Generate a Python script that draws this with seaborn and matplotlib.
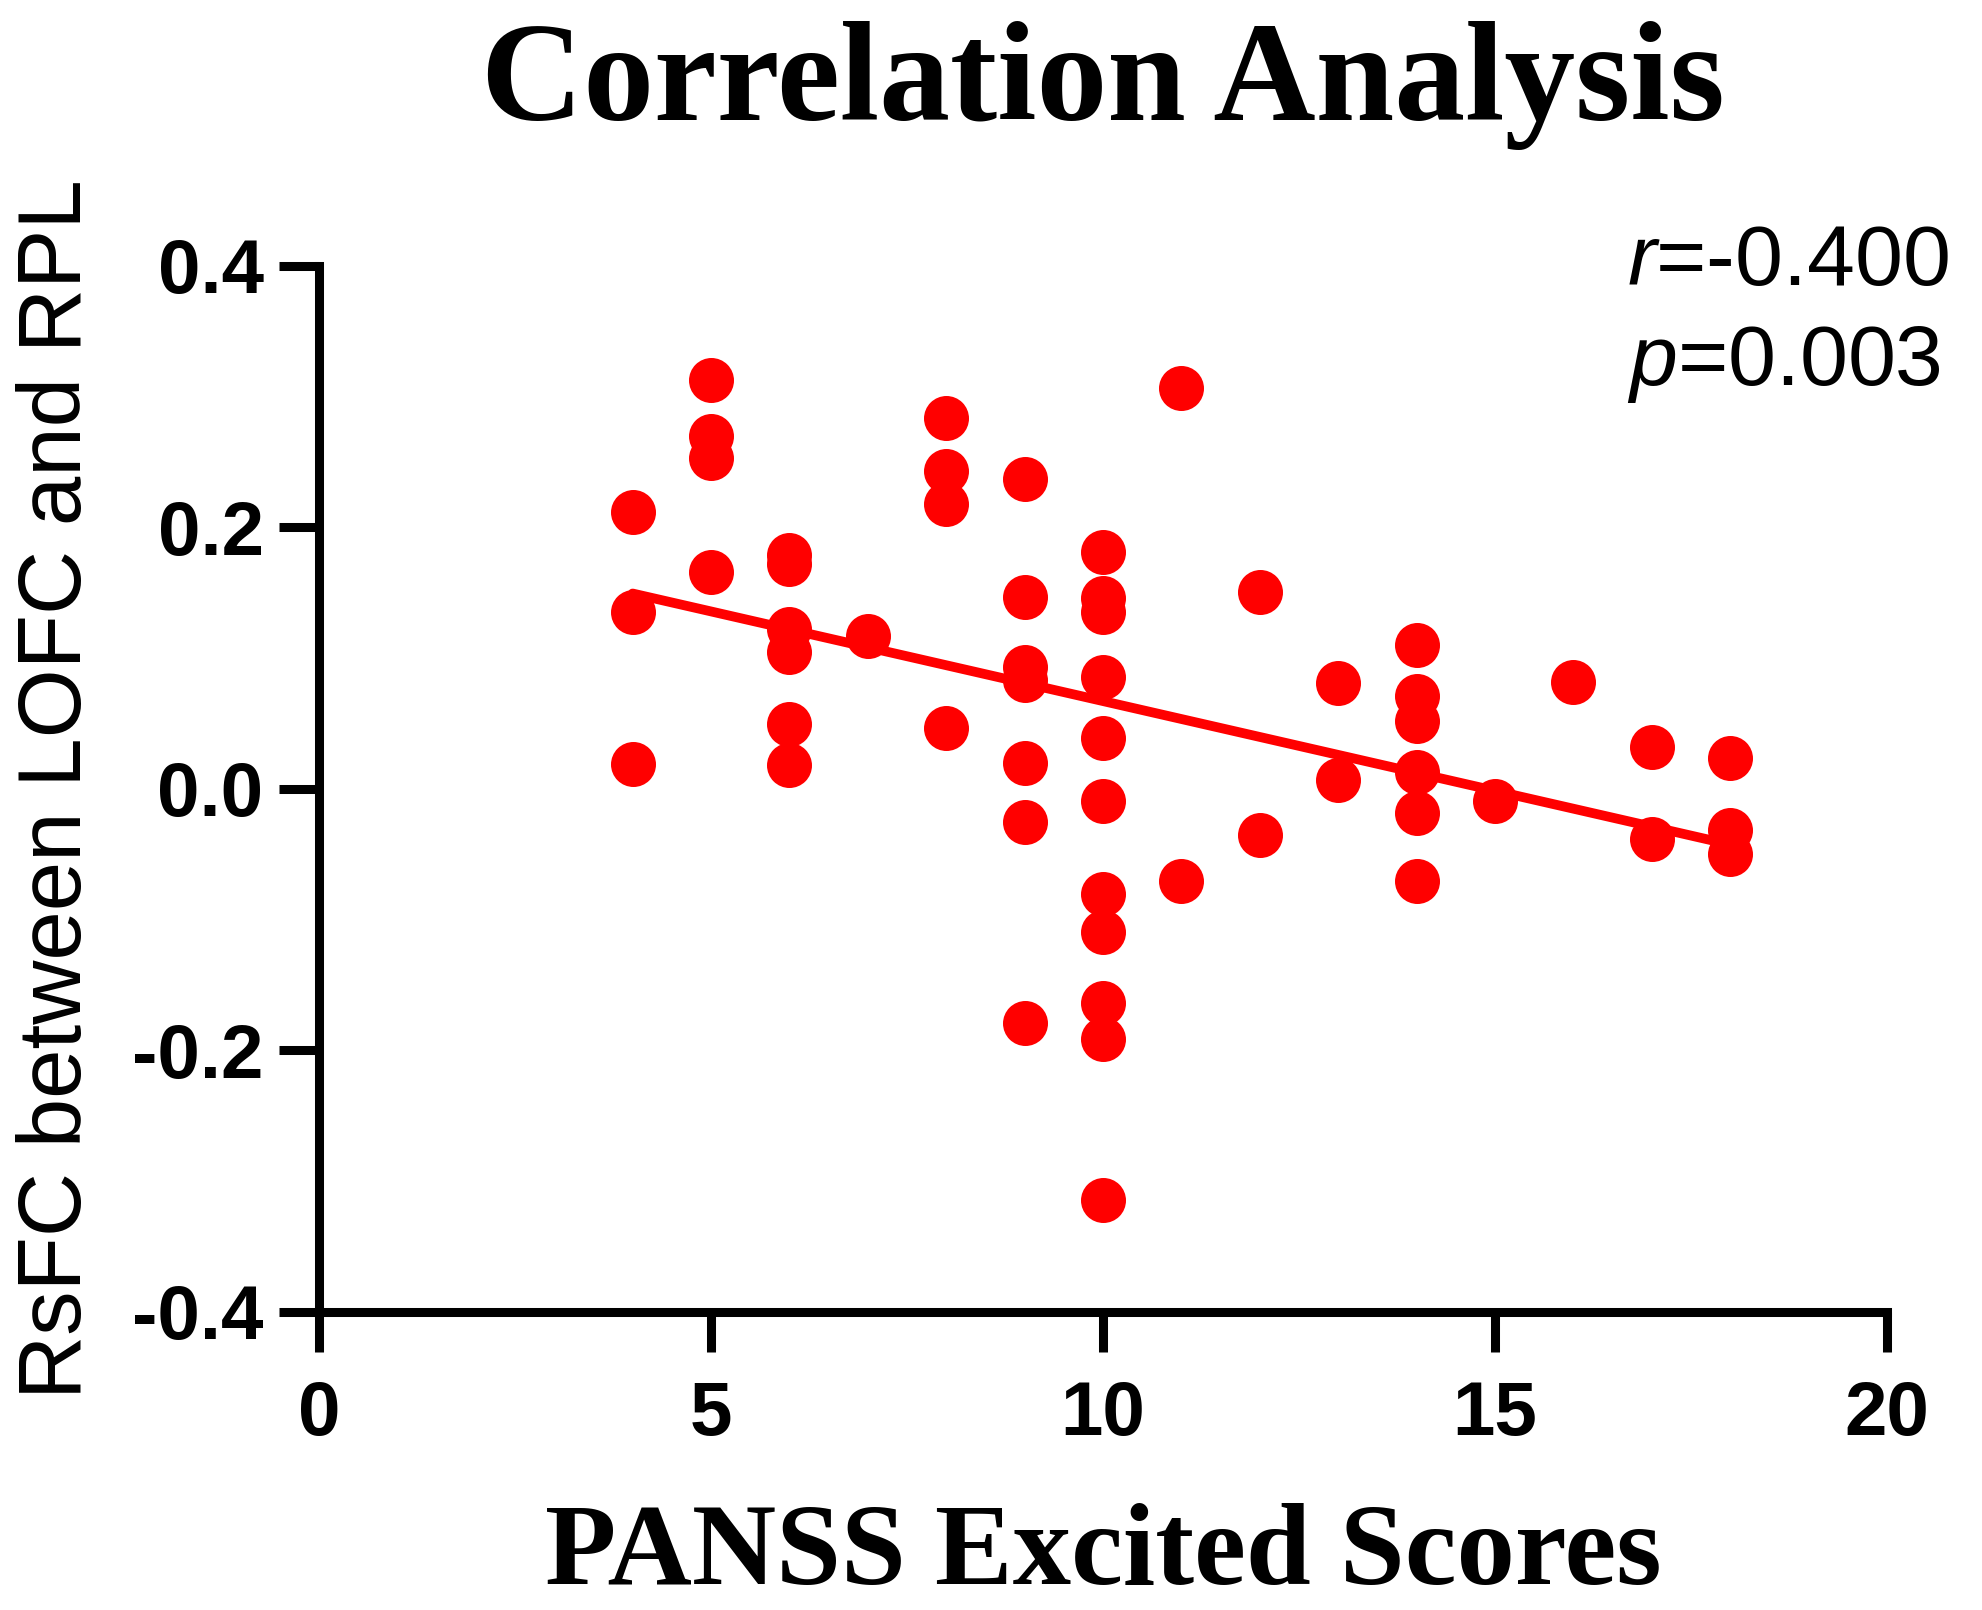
import numpy as np
import pandas as pd
import seaborn as sns
import matplotlib.pyplot as plt

# PANSS excited scores (x) and RsFC values (y)
x4 = [0.212, 0.135, 0.019]
x5 = [0.313, 0.270, 0.253, 0.166]
x6 = [0.179, 0.172, 0.122, 0.105, 0.050, 0.018]
x7 = [0.117]
x8 = [0.284, 0.243, 0.218, 0.047]
x9 = [0.237, 0.147, 0.093, 0.083, 0.020, -0.025, -0.179]
x10 = [0.181, 0.146, 0.135, 0.086, 0.039, -0.009, -0.080, -0.109, -0.164, -0.191, -0.314]
x11 = [0.307, -0.070]
x12 = [0.151, -0.035]
x13 = [0.081, 0.007]
x14 = [0.110, 0.071, 0.052, 0.013, -0.018, -0.070]
x15 = [-0.009]
x16 = [0.082]
x17 = [0.032, -0.038]
x18 = [0.024, -0.031, -0.050]

columns = {4: x4, 5: x5, 6: x6, 7: x7, 8: x8, 9: x9, 10: x10, 11: x11,
           12: x12, 13: x13, 14: x14, 15: x15, 16: x16, 17: x17, 18: x18}

scores = [k for k, v in columns.items() for _ in v]
rsfc = [val for v in columns.values() for val in v]
df = pd.DataFrame({'score': scores, 'rsfc': rsfc})

x_ticks = [0, 5, 10, 15, 20]
y_ticks = [-0.4, -0.2, 0.0, 0.2, 0.4]
y_ticklabels = ['-0.4', '-0.2', '0.0', '0.2', '0.4']

sns.set_style('ticks')
plt.rcParams['mathtext.fontset'] = 'custom'
plt.rcParams['mathtext.rm'] = 'Liberation Sans'
plt.rcParams['mathtext.it'] = 'Liberation Sans:italic'
plt.rcParams['text.color'] = 'black'
plt.rcParams['axes.labelcolor'] = 'black'
plt.rcParams['xtick.color'] = 'black'
plt.rcParams['ytick.color'] = 'black'

fig = plt.figure(figsize=(19.83, 16.10), dpi=100)
ax = fig.add_axes([0.1609, 0.1851, 0.7907, 0.6497])

red = '#ff0000'
sns.regplot(data=df, x='score', y='rsfc', ci=None, ax=ax,
            scatter_kws=dict(s=1050, color=red, linewidths=0, alpha=1),
            line_kws=dict(color=red, lw=7))

ax.set_xlim(0, 20)
ax.set_ylim(-0.4, 0.4)
ax.set_xticks(x_ticks)
ax.set_yticks(y_ticks)
ax.set_yticklabels(y_ticklabels)

for lab in ax.get_xticklabels() + ax.get_yticklabels():
    lab.set_fontfamily('Liberation Sans')
    lab.set_fontweight('bold')
    lab.set_fontsize(55)
    lab.set_color('black')

ax.tick_params(axis='both', direction='out', length=29, width=6.5, color='black')
ax.tick_params(axis='x', pad=20)
ax.tick_params(axis='y', pad=11)

for side in ['top', 'right']:
    ax.spines[side].set_visible(False)
for side in ['left', 'bottom']:
    ax.spines[side].set_linewidth(6.5)
    ax.spines[side].set_color('black')

ax.set_ylabel('RsFC between LOFC and RPL', fontfamily='Liberation Sans',
              fontsize=64, color='black')
ax.yaxis.set_label_coords(-0.14, 0.5)

ax.set_xlabel('PANSS Excited Scores', fontfamily='Liberation Serif',
              fontweight='bold', fontsize=84, color='black')
ax.xaxis.set_label_coords(0.5, -0.26)
ax.xaxis.label.set_verticalalignment('baseline')

ax.set_title('Correlation Analysis', fontfamily='Liberation Serif',
             fontweight='bold', fontsize=102, y=1.14, pad=0, color='black')

ax.text(0.834, 0.982, r'$\mathit{r}$=-0.400', transform=ax.transAxes,
        fontfamily='Liberation Sans', fontsize=62, ha='left', va='baseline')
ax.text(0.834, 0.886, r'$\mathit{p}$=0.003', transform=ax.transAxes,
        fontfamily='Liberation Sans', fontsize=62, ha='left', va='baseline')

fig.savefig('out.png', dpi=100, facecolor='white')
